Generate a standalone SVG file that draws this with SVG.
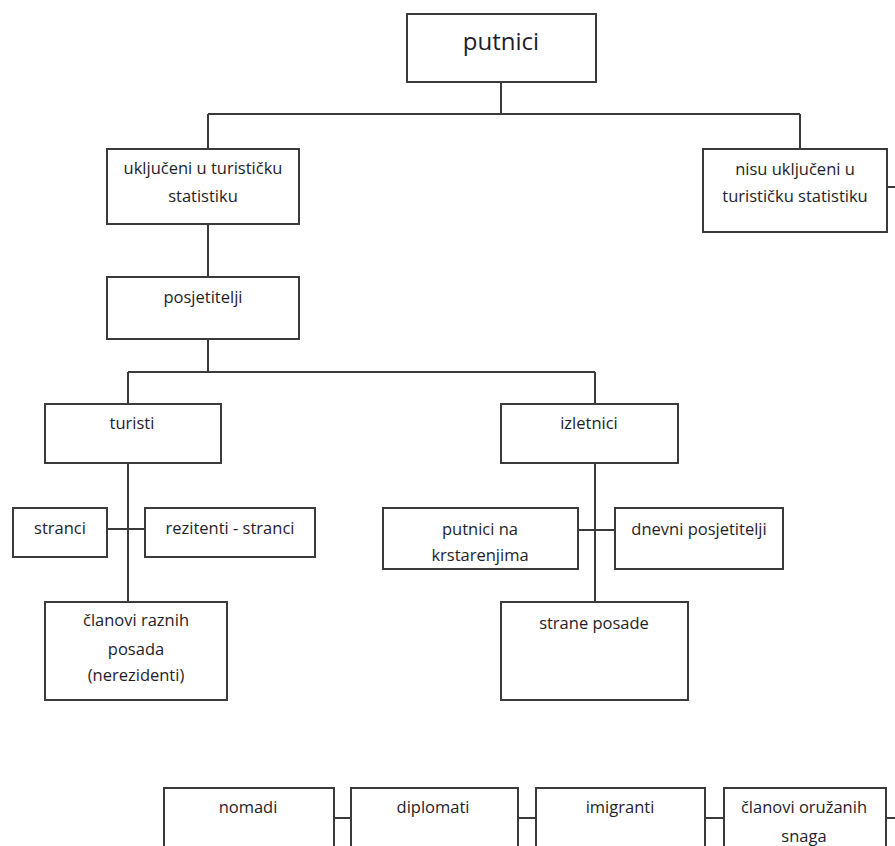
<svg xmlns="http://www.w3.org/2000/svg" width="895" height="846" viewBox="0 0 895 846">
<style>
.box{fill:#ffffff;stroke:#3a3a3a;stroke-width:2}
.ln{stroke:#3a3a3a;stroke-width:2;fill:none}
text{font-family:"Open Sans","Liberation Sans",sans-serif;font-size:16.5px;fill:#1e1e2a;text-anchor:middle}
.big{font-size:24px}
</style>
<rect width="895" height="846" fill="#ffffff"/>
<g id="connectors">
<path class="ln" d="M501 82V114M208 114H800M208 114V149M800 114V149M887 187H895"/>
<path class="ln" d="M208 224V277M208 339V372M128 372H595M128 372V404M595 372V404"/>
<path class="ln" d="M128 463V602M107 529H145"/>
<path class="ln" d="M595 463V602M578 530H615"/>
<path class="ln" d="M334 818H351M518 818H536M705 818H724M886 818H895"/>
</g>
<g id="putnici"><rect class="box" x="407" y="14" width="189" height="68"/><text class="big" x="501" y="50">putnici</text></g>
<g id="ukljuceni"><rect class="box" x="107" y="149" width="192" height="75"/><text x="203" y="174">uključeni u turističku</text><text x="203" y="202">statistiku</text></g>
<g id="nisu"><rect class="box" x="703" y="149" width="184" height="83"/><text x="795" y="175">nisu uključeni u</text><text x="795" y="202">turističku statistiku</text></g>
<g id="posjetitelji"><rect class="box" x="107" y="277" width="192" height="62"/><text x="203" y="303">posjetitelji</text></g>
<g id="turisti"><rect class="box" x="45" y="404" width="176" height="59"/><text x="132" y="429">turisti</text></g>
<g id="izletnici"><rect class="box" x="501" y="404" width="177" height="59"/><text x="589" y="429">izletnici</text></g>
<g id="stranci"><rect class="box" x="13" y="508" width="94" height="49"/><text x="60" y="534">stranci</text></g>
<g id="rezitenti"><rect class="box" x="145" y="508" width="170" height="49"/><text x="230" y="534">rezitenti - stranci</text></g>
<g id="clanovi-posada"><rect class="box" x="45" y="602" width="182" height="98"/><text x="136" y="626">članovi raznih</text><text x="136" y="655">posada</text><text x="136" y="681">(nerezidenti)</text></g>
<g id="krstarenja"><rect class="box" x="383" y="508" width="195" height="61"/><text x="480" y="535">putnici na</text><text x="480" y="561">krstarenjima</text></g>
<g id="dnevni"><rect class="box" x="615" y="508" width="168" height="61"/><text x="699" y="535">dnevni posjetitelji</text></g>
<g id="strane-posade"><rect class="box" x="501" y="602" width="187" height="98"/><text x="594" y="629">strane posade</text></g>
<g id="nomadi"><rect class="box" x="164" y="788" width="170" height="80"/><text x="248" y="813">nomadi</text></g>
<g id="diplomati"><rect class="box" x="351" y="788" width="167" height="80"/><text x="433" y="813">diplomati</text></g>
<g id="imigranti"><rect class="box" x="536" y="788" width="169" height="80"/><text x="620" y="813">imigranti</text></g>
<g id="clanovi-oruzanih"><rect class="box" x="724" y="788" width="162" height="80"/><text x="804" y="813">članovi oružanih</text><text x="804" y="842">snaga</text></g>
</svg>
